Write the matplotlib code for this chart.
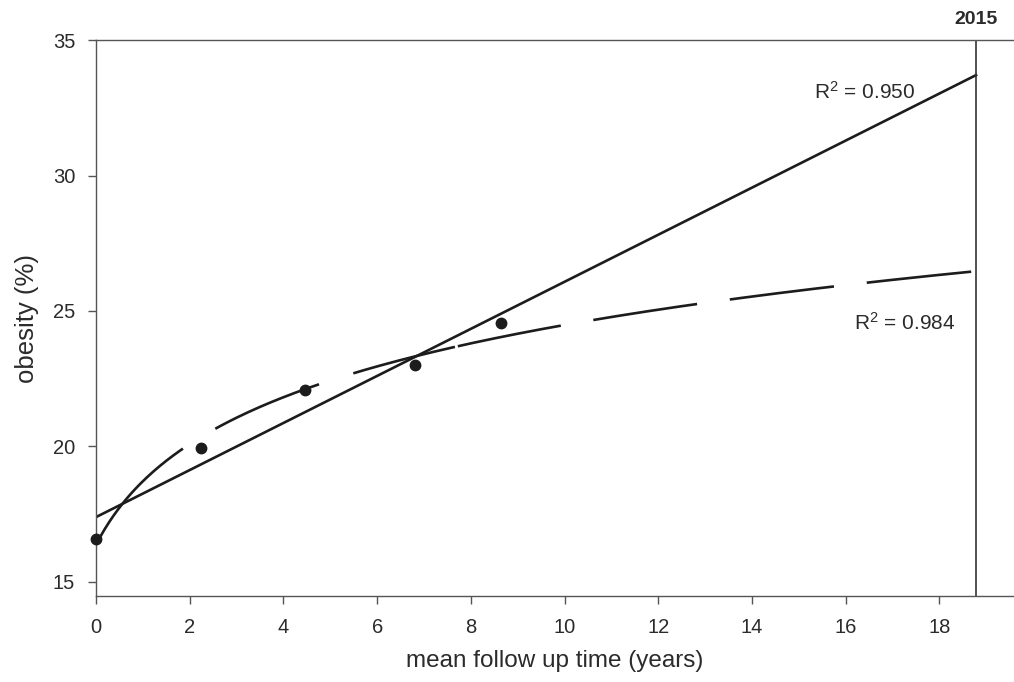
import numpy as np
import matplotlib
matplotlib.use("Agg")
import matplotlib.pyplot as plt

plt.rcParams["font.family"] = ["Liberation Sans", "DejaVu Sans"]
plt.rcParams["mathtext.fontset"] = "custom"
plt.rcParams["mathtext.rm"] = "Liberation Sans"
plt.rcParams["mathtext.it"] = "Liberation Sans"
plt.rcParams["lines.scale_dashes"] = False

# observed points
follow_up = np.array([0.0, 2.25, 4.45, 6.8, 8.65])
obesity = np.array([16.6, 19.95, 22.1, 23.0, 24.55])

year_2015 = 18.78
x_ticks = [0, 2, 4, 6, 8, 10, 12, 14, 16, 18]
y_ticks = [15, 20, 25, 30, 35]
r2_linear = "0.950"
r2_log = "0.984"

# fits
lin = np.polyfit(follow_up, obesity, 1)
logfit = np.polyfit(np.log(follow_up + 1), obesity, 1)
xx = np.linspace(0, year_2015, 400)

ink = "#1c1c1c"
grey = "#555555"
txt = "#2b2b2b"

fig = plt.figure(figsize=(10.14, 6.82), dpi=100)
ax = fig.add_axes([0.0947, 0.1261, 1 - 0.0947, 0.9413 - 0.1261])

ax.plot(xx, np.polyval(lin, xx), color=ink, lw=1.9)
dash = [v * 0.72 for v in (131, 38, 113, 36, 105, 3, 105, 33, 105, 33, 105, 33, 105, 33)]
ax.plot(xx, np.polyval(logfit, np.log(xx + 1)), color=ink, lw=1.9,
        dashes=dash, solid_capstyle="butt")
ax.plot(follow_up, obesity, "o", color=ink, ms=7.5, clip_on=False, zorder=5)

ax.axvline(year_2015, color="#333333", lw=1.2)
ax.text(year_2015, 35.75, "2015", ha="center", va="center",
        fontsize=14, fontweight="bold", color=txt)

ax.text(16.41, 33.1, r"R$^2$ = " + r2_linear, ha="center", va="center",
        fontsize=15, color=txt)
ax.text(17.25, 24.55, r"R$^2$ = " + r2_log, ha="center", va="center",
        fontsize=15, color=txt)

ax.set_xlim(0, 19.59)
ax.set_ylim(14.48, 35)
ax.set_xticks(x_ticks)
ax.set_yticks(y_ticks)
ax.tick_params(direction="out", length=6, width=1, color=grey,
               labelsize=14.5, labelcolor=txt)
ax.tick_params(axis="x", pad=10)
ax.tick_params(axis="y", pad=9)

for s in ["left", "bottom", "top"]:
    ax.spines[s].set_color(grey)
    ax.spines[s].set_linewidth(1.0)
ax.spines["right"].set_visible(False)

ax.set_xlabel("mean follow up time (years)", fontsize=17.5, color=txt, labelpad=9)
ax.set_ylabel("obesity (%)", fontsize=18.5, color=txt, labelpad=10)

fig.savefig("out.png", dpi=100)
